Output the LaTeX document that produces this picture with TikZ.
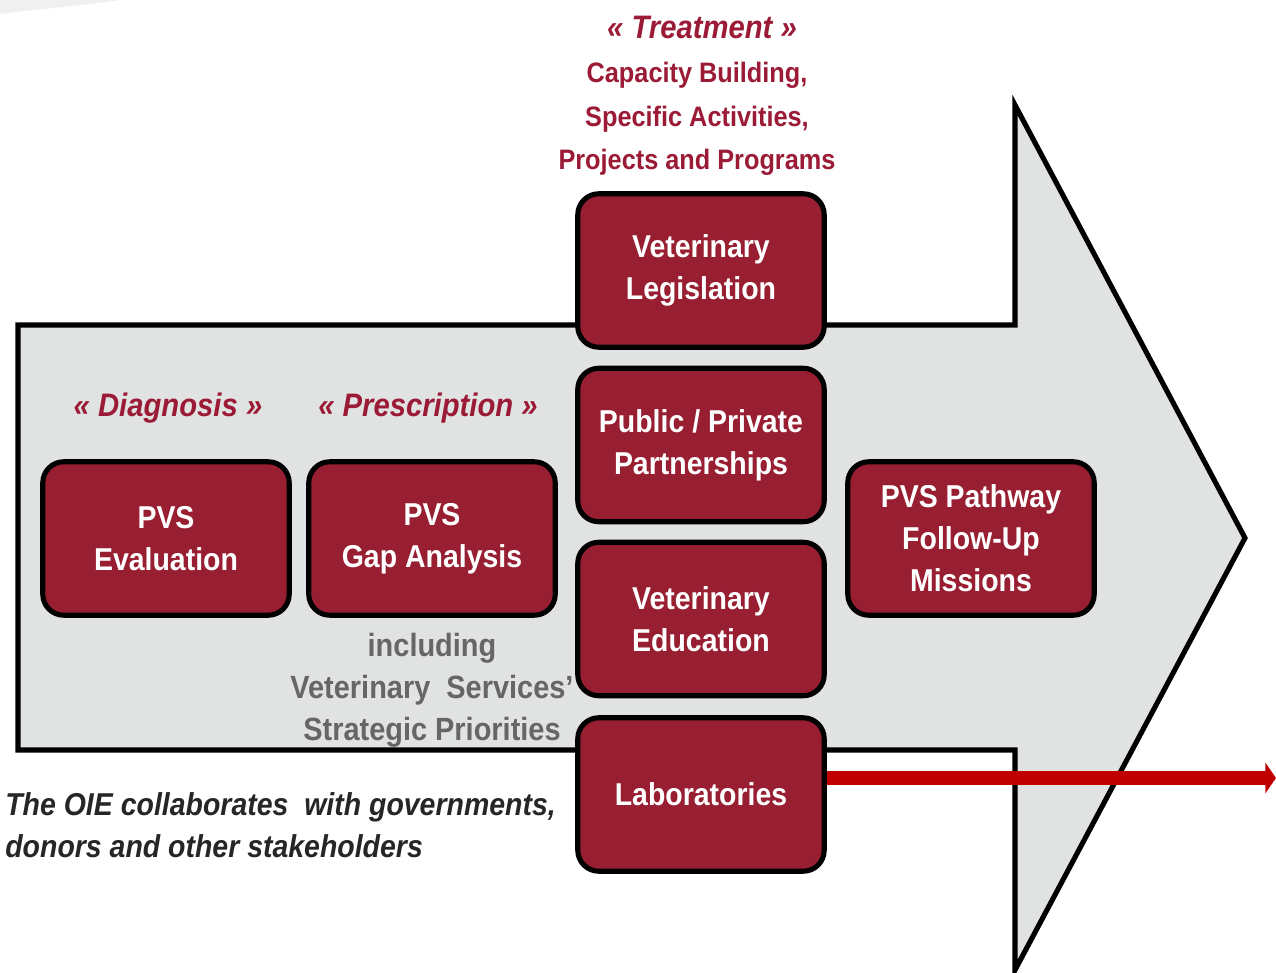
\documentclass[tikz,border=0pt]{standalone}
\usepackage{fontspec}
\setmainfont{Liberation Sans}[FakeStretch=0.9]
\usetikzlibrary{arrows.meta}
\definecolor{boxred}{HTML}{981E32}
\definecolor{txtred}{HTML}{9B1B36}
\definecolor{arrowfill}{HTML}{E1E2E2}
\definecolor{greytxt}{HTML}{666666}
\definecolor{oietxt}{HTML}{262626}
\definecolor{redline}{HTML}{C00000}
\tikzset{
  px/.style={x=0.02cm,y=-0.02cm},
  redbox/.style={draw=black, fill=boxred, line width=2.9pt, rounded corners=0.42cm,
    minimum width=4.93cm, minimum height=3.07cm, inner sep=0pt,
    text=white, align=center, font=\fontsize{18}{23.8}\selectfont\bfseries},
  redlabel/.style={text=txtred, align=center, font=\fontsize{16}{24.8}\selectfont\bfseries},
  phase/.style={text=txtred, font=\fontsize{18.5}{24}\selectfont\bfseries\itshape},
  greylabel/.style={text=greytxt, align=center, font=\fontsize{18.3}{23.8}\selectfont\bfseries},
  oielabel/.style={text=oietxt, align=left, inner sep=0pt, font=\fontsize{18}{23.8}\selectfont\bfseries\itshape},
  bigarrow/.style={draw=black, fill=arrowfill, line width=2.9pt, miter limit=20},
  redarrow/.style={draw=redline, line width=8.5pt, -{Triangle[length=6pt,width=17pt]}}
}
\begin{document}
\begin{tikzpicture}[px]
\useasboundingbox (0,0) rectangle (1276,973);
\begin{scope}
\clip (0,0) rectangle (1276,973);
% faint smear at top left
\fill[gray!12] (0,0) -- (120,0) .. controls (80,6) and (30,10) .. (0,14) -- cycle;
% big arrow
\draw[bigarrow] (18,325) -- (1015,325) -- (1015,105) -- (1245,538) -- (1015,970) -- (1015,750) -- (18,750) -- cycle;
% boxes
\node[redbox] (eval) at (166,538.5) {PVS\\Evaluation};
\node[redbox] (gap) at (432,538.5) {PVS\\Gap Analysis};
\node[redbox] (leg) at (701,270.5) {Veterinary\\Legislation};
\node[redbox] (ppp) at (701,445) {Public / Private\\Partnerships};
\node[redbox] (edu) at (701,619) {Veterinary\\Education};
\node[redbox] (lab) at (701,794.5) {Laboratories};
\node[redbox] (follow) at (971,538.5) {PVS Pathway\\Follow-Up\\Missions};
% labels
\node[phase] (treat) at (702,27) {« Treatment »};
\node[redlabel] (cap) at (697,119) {Capacity Building,\\Specific Activities,\\Projects and Programs};
\node[phase] (diag) at (168,408) {« Diagnosis »};
\node[phase] (presc) at (428,408) {« Prescription »};
\node[greylabel] (incl) at (432,690) {including\\Veterinary \ Services’\\Strategic Priorities};
\node[oielabel, anchor=west] (oie) at (5,825) {The OIE collaborates \ with governments,\\donors and other stakeholders};
% red arrow
\coordinate (redend) at (1276,778);
\draw[redarrow] (lab.east |- redend) -- (redend);
\end{scope}
\end{tikzpicture}
\end{document}
